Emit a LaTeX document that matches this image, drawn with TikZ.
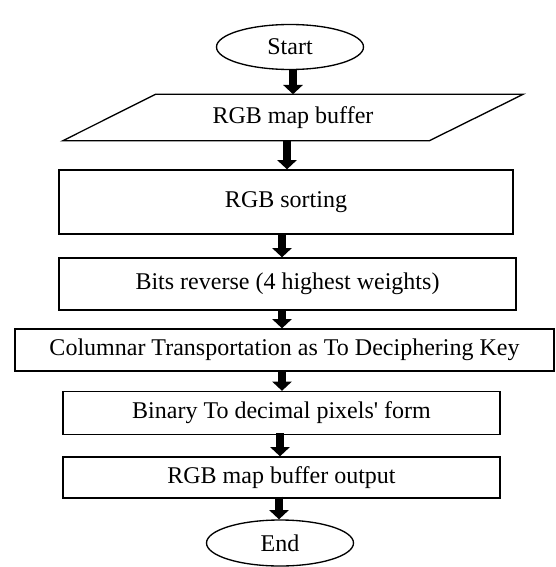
\documentclass[tikz,border=0pt]{standalone}
\usepackage{fontspec}
\setmainfont{Liberation Serif}
\usetikzlibrary{shapes.geometric,arrows.meta,calc}
\newcommand{\pxu}{0.75pt}
\begin{document}
\begin{tikzpicture}[x=0.75pt,y=-0.75pt,
  every node/.style={font=\fontsize{18}{21}\selectfont, inner sep=0pt},
  procbox/.style={draw, line width=1pt, rectangle},
  termbox/.style={draw, line width=1pt, ellipse, minimum width=147*\pxu, minimum height=45*\pxu},
  flow/.style={line width=6.5pt, -{Triangle[width=14.5pt,length=7pt]}}]
\useasboundingbox (0,0) rectangle (556,567);
\node[termbox] (start) at (290,47) {Start};
\node[minimum width=460*\pxu, minimum height=46*\pxu] (in) at (293,117.5) {RGB map buffer};
\draw[line width=1pt] ([xshift=93*\pxu]in.north west) -- (in.north east) -- ([xshift=-94*\pxu]in.south east) -- (in.south west) -- cycle;
\node[procbox, minimum width=454*\pxu, minimum height=64*\pxu] (sort) at (286,202) {RGB sorting};
\node[procbox, minimum width=457*\pxu, minimum height=52*\pxu] (bits) at (287.5,284) {Bits reverse (4 highest weights)};
\node[procbox, minimum width=539*\pxu, minimum height=42*\pxu] (col) at (284.5,350) {Columnar Transportation as To Deciphering Key};
\node[procbox, minimum width=437*\pxu, minimum height=43*\pxu] (bin) at (281.5,413) {Binary To decimal pixels\textquotesingle{} form};
\node[procbox, minimum width=437*\pxu, minimum height=41*\pxu] (out) at (281.5,477.5) {RGB map buffer output};
\node[termbox, minimum height=46*\pxu] (end) at (280,543) {End};
\coordinate (c1) at (293,0);
\coordinate (c2) at (287,0);
\coordinate (c3) at (282,0);
\coordinate (c6) at (280,0);
\coordinate (c7) at (279,0);
\draw[flow] (start.south -| c1) -- (in.north -| c1);
\draw[flow] (in.south -| c2) -- (sort.north -| c2);
\draw[flow] (sort.south -| c3) -- (bits.north -| c3);
\draw[flow] (bits.south -| c3) -- (col.north -| c3);
\draw[flow] (col.south -| c3) -- (bin.north -| c3);
\draw[flow] ([yshift=1.5pt]bin.south -| c6) -- (out.north -| c6);
\draw[flow] ([yshift=1.5pt]out.south -| c7) -- (end.north -| c7);
\end{tikzpicture}
\end{document}
